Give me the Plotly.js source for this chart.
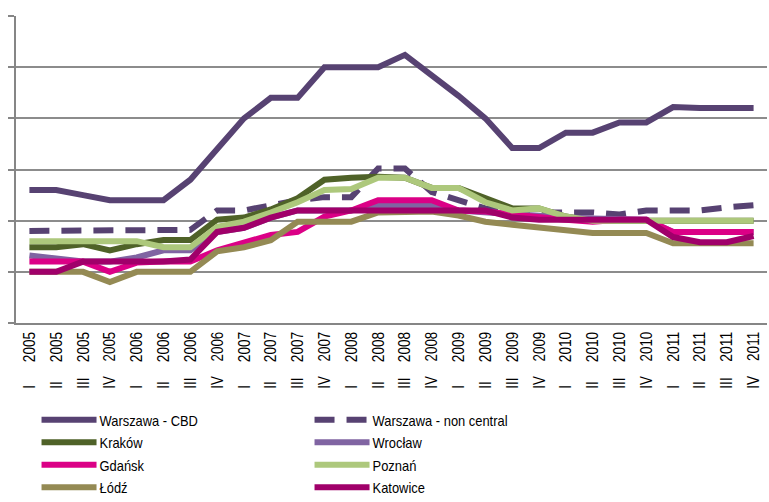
<!DOCTYPE html>
<html>
<head>
<meta charset="utf-8">
<script src="https://cdn.plot.ly/plotly-3.0.1.min.js"></script>
<style>html,body{margin:0;padding:0;background:#fff;}#chart{width:769px;height:502px;}</style>
</head>
<body>
<div id="chart"></div>
<script>
// Quarter categories
const quarters = ["I","II","III","IV"];
const years = [2005,2006,2007,2008,2009,2010,2011];
const categories = [];
years.forEach(y => quarters.forEach(q => categories.push(q + " " + y)));
// tick labels: quarter numeral and year kept apart as in the reference
const padCount = {"I":6,"II":5,"III":4,"IV":4};
const tickLabels = categories.map(c => {
  const [q, y] = c.split(" ");
  return q + "\u00A0".repeat(padCount[q]) + y;
});

// Series values
const warszawaCBD   = [23,23,22.5,22,22,22,24,27,30,32,32,35,35,35,36.2,34.2,32.2,30,27.1,27.1,28.6,28.6,29.6,29.6,31.1,31,31,31];
const warszawaNon   = [19,19,19,19,19,19,19.1,21,21,21.5,22,22.3,22.3,25.1,25.1,22.8,22,21.2,21,20.8,20.8,20.8,20.6,21,21,21,21.3,21.5];
const krakow        = [17.4,17.4,17.7,17.1,17.7,18.1,18.1,20.1,20.3,21.1,22.2,24,24.2,24.3,24.2,23.2,23.2,22.2,21.2,21.2,20.4,20,20,20,20,20,20,20];
const wroclaw       = [16.6,16.3,16,16,16.4,17.1,17.1,18.9,19.3,20.3,21,21,21,21.5,21.5,21.5,21,20.8,20.6,20.4,20.3,20.2,20.1,20.1,18.9,18.9,18.9,18.9];
const gdansk        = [16,16,16,15,15.9,16,16,17.1,17.8,18.6,18.9,20.4,21,22,22,22,21,20.9,20.6,20.3,20.1,19.9,20.1,20.1,18.9,18.9,18.9,18.9];
const poznan        = [18,18,18,18,18,17.4,17.4,19.4,19.9,20.8,21.8,23,23.1,24.2,24.2,23.2,23.2,21.8,21,21.2,20.4,20,20,20,20,20,20,20];
const lodz          = [15,15,15,14,15,15,15,17,17.4,18.1,19.9,19.9,19.9,20.8,20.9,20.9,20.5,19.9,19.6,19.3,19.1,18.8,18.8,18.8,17.8,17.8,17.8,17.8];
const katowice      = [15,15,16,16,16,16,16.2,18.9,19.3,20.3,21,21,21,21,21,21,21,21,20.3,20.1,20.1,20.1,20.1,20.1,18.4,17.9,17.9,18.5];

const seriesNames  = ["Warszawa - CBD","Warszawa - non central","Kraków","Wrocław","Gdańsk","Poznań","Łódź","Katowice"];
const seriesValues = [warszawaCBD, warszawaNon, krakow, wroclaw, gdansk, poznan, lodz, katowice];
const seriesColors = ["#574272","#574272","#4f6228","#8064a2","#db0086","#adc87c","#948a54","#a0006a"];
const seriesDash   = ["solid","20px,12px","solid","solid","solid","solid","solid","solid"];

const FONT = '"Liberation Sans", Arial, sans-serif';

const traces = seriesNames.map((n, i) => ({
  type: "scatter",
  mode: "lines",
  name: n,
  x: categories,
  y: seriesValues[i],
  line: {color: seriesColors[i], width: 6, dash: seriesDash[i]},
  hoverinfo: "x+y+name"
}));

const layout = {
  width: 769, height: 502,
  paper_bgcolor: "#ffffff", plot_bgcolor: "#ffffff",
  margin: {l: 16, r: 2, t: 16, b: 179, pad: 0},
  font: {family: FONT, color: "#000000", size: 15},
  showlegend: true,
  legend: {
    orientation: "h",
    xref: "container", yref: "container",
    x: 0.0475, y: 0.196, xanchor: "left", yanchor: "top",
    itemwidth: 53,
    entrywidth: 205, entrywidthmode: "pixels",
    font: {family: FONT, size: 15, color: "#000000"},
    traceorder: "normal",
    bgcolor: "rgba(0,0,0,0)",
    tracegroupgap: 0
  },
  xaxis: {
    type: "category",
    categoryorder: "array", categoryarray: categories,
    range: [-0.5, 27.5],
    tickmode: "array", tickvals: categories, ticktext: tickLabels,
    tickangle: -90,
    ticks: "",
    tickfont: {family: FONT, size: 17, color: "#000000"},
    showgrid: false,
    showline: true, linecolor: "#868686", linewidth: 2,
    zeroline: false, fixedrange: true
  },
  xaxis2: {
    type: "linear", overlaying: "x", anchor: "y", side: "bottom",
    range: [-0.5, 27.5],
    tickmode: "linear", tick0: -0.5, dtick: 4,
    ticks: "outside", ticklen: 6, tickwidth: 2, tickcolor: "#868686",
    showticklabels: false, showgrid: false, showline: false, zeroline: false
  },
  yaxis: {
    range: [10, 40],
    tickmode: "linear", tick0: 10, dtick: 5,
    ticks: "outside", ticklen: 6, tickwidth: 2, tickcolor: "#868686",
    showticklabels: false,
    showgrid: true, gridcolor: "#8c8c8c", gridwidth: 2,
    showline: true, linecolor: "#868686", linewidth: 2,
    zeroline: false, fixedrange: true
  }
};

Plotly.newPlot("chart", traces, layout, {staticPlot: true, displayModeBar: false}).then(gd => {
  // condensed lettering like the reference's narrow typeface
  gd.querySelectorAll(".legendtext").forEach(t => {
    const L = t.getComputedTextLength();
    t.setAttribute("textLength", (L * 0.86).toFixed(1));
    t.setAttribute("lengthAdjust", "spacingAndGlyphs");
  });
  gd.querySelectorAll(".xtick text").forEach(t => {
    t.setAttribute("textLength", "57");
    t.setAttribute("lengthAdjust", "spacingAndGlyphs");
  });
  // longer legend line samples
  gd.querySelectorAll(".legendlines path").forEach(p => {
    p.setAttribute("d", "M5,0h55");
  });
});
</script>
</body>
</html>
